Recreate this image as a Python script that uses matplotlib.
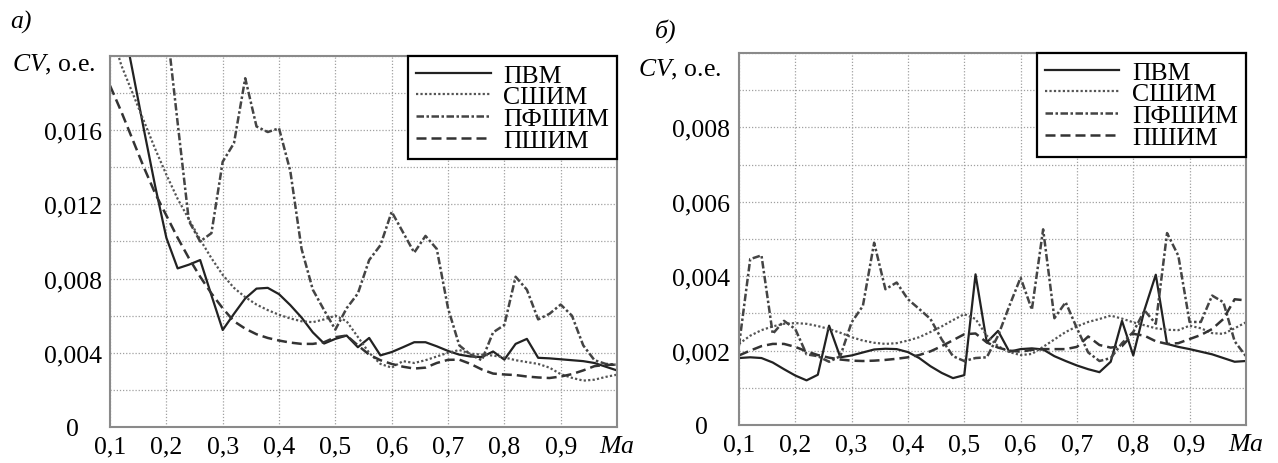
import matplotlib
matplotlib.use("Agg")
import matplotlib.pyplot as plt

plt.rcParams["font.family"] = ["Liberation Serif", "DejaVu Serif"]
plt.rcParams["mathtext.fontset"] = "custom"
plt.rcParams["mathtext.it"] = "Liberation Serif:italic"
plt.rcParams["mathtext.rm"] = "Liberation Serif"

# Mach number sampling
mach = [0.10, 0.12, 0.14, 0.16, 0.18, 0.20, 0.22, 0.24, 0.26, 0.28,
        0.30, 0.32, 0.34, 0.36, 0.38, 0.40, 0.42, 0.44, 0.46, 0.48,
        0.50, 0.52, 0.54, 0.56, 0.58, 0.60, 0.62, 0.64, 0.66, 0.68,
        0.70, 0.72, 0.74, 0.76, 0.78, 0.80, 0.82, 0.84, 0.86, 0.88,
        0.90, 0.92, 0.94, 0.96, 0.98, 1.00]

labels = ["ПВМ", "СШИМ", "ПФШИМ", "ПШИМ"]

# panel а), CV * 1e3
pvm_a = [25.7, 22.3, 19.2, 16.05, 13.0, 10.2, 8.55, 8.75, 9.0, 7.1,
         5.23, 6.1, 6.93, 7.46, 7.5, 7.16, 6.57, 5.9, 5.1, 4.5,
         4.75, 4.93, 4.3, 4.8, 3.86, 4.04, 4.3, 4.57, 4.57, 4.35,
         4.1, 3.9, 3.8, 3.77, 4.07, 3.63, 4.48, 4.75, 3.73, 3.7,
         3.65, 3.6, 3.55, 3.45, 3.25, 3.05]
sshim_a = [21.5, 19.5, 18.0, 16.5, 15.0, 13.6, 12.3, 11.2, 10.1, 9.1,
           8.2, 7.5, 7.0, 6.6, 6.3, 6.05, 5.85, 5.7, 5.65, 5.8,
           6.0, 5.7, 4.85, 4.0, 3.4, 3.2, 3.55, 3.45, 3.6, 3.8,
           4.0, 4.15, 3.95, 3.9, 3.85, 3.75, 3.6, 3.5, 3.4, 3.2,
           2.85, 2.65, 2.5, 2.55, 2.7, 2.82]
pfshim_a = [40.0, 36.0, 32.0, 28.5, 25.0, 21.8, 16.4, 11.1, 10.0, 10.45,
            14.3, 15.3, 18.8, 16.2, 15.9, 16.1, 13.8, 9.6, 7.4, 6.3,
            5.25, 6.4, 7.2, 9.0, 9.8, 11.6, 10.5, 9.4, 10.3, 9.6,
            6.4, 4.4, 3.9, 3.6, 5.1, 5.5, 8.1, 7.4, 5.8, 6.1,
            6.6, 6.0, 4.4, 3.6, 3.4, 3.36]
pshim_a = [18.4, 17.0, 15.5, 14.0, 12.6, 11.4, 10.2, 9.1, 8.1, 7.2,
           6.4, 5.7, 5.3, 5.0, 4.8, 4.66, 4.55, 4.48, 4.48, 4.57,
           4.84, 4.93, 4.4, 3.9, 3.6, 3.4, 3.25, 3.15, 3.2, 3.45,
           3.62, 3.63, 3.4, 3.1, 2.88, 2.83, 2.8, 2.72, 2.67, 2.64,
           2.72, 2.85, 3.05, 3.28, 3.35, 3.36]

# panel б), CV * 1e3
pvm_b = [1.8, 1.82, 1.8, 1.68, 1.5, 1.33, 1.2, 1.35, 2.67, 1.82,
         1.87, 1.95, 2.03, 2.05, 2.04, 1.96, 1.8, 1.58, 1.4, 1.26,
         1.34, 4.05, 2.22, 2.53, 1.97, 2.04, 2.06, 2.03, 1.85, 1.72,
         1.6, 1.5, 1.42, 1.7, 2.8, 1.87, 3.1, 4.04, 2.18, 2.1,
         2.04, 1.97, 1.9, 1.8, 1.7, 1.72]
sshim_b = [2.18, 2.4, 2.55, 2.65, 2.72, 2.74, 2.72, 2.66, 2.58, 2.48,
           2.36, 2.27, 2.21, 2.18, 2.2, 2.27, 2.36, 2.5, 2.65, 2.82,
           2.98, 2.85, 2.4, 2.12, 1.96, 1.88, 1.91, 2.1, 2.3, 2.5,
           2.65, 2.77, 2.85, 2.94, 2.86, 2.76, 2.68, 2.6, 2.56, 2.55,
           2.67, 2.6, 2.47, 2.45, 2.6, 2.76]
pfshim_b = [2.13, 4.46, 4.56, 2.45, 2.8, 2.58, 1.9, 1.85, 1.7, 1.85,
            2.76, 3.2, 4.9, 3.65, 3.83, 3.38, 3.12, 2.85, 2.3, 1.85,
            1.72, 1.8, 1.82, 2.4, 3.2, 3.96, 3.1, 5.26, 2.87, 3.3,
            2.6, 1.95, 1.72, 1.8, 2.2, 2.5, 3.08, 2.72, 5.16, 4.55,
            2.77, 2.77, 3.48, 3.3, 2.25, 1.85]
pshim_b = [1.87, 2.0, 2.12, 2.18, 2.18, 2.1, 1.98, 1.88, 1.81, 1.76,
           1.73, 1.72, 1.73, 1.75, 1.78, 1.82, 1.88, 1.98, 2.12, 2.28,
           2.44, 2.46, 2.22, 2.08, 2.0, 1.97, 2.02, 2.04, 2.04, 2.04,
           2.1, 2.38, 2.15, 2.08, 2.12, 2.45, 2.4, 2.25, 2.18, 2.2,
           2.31, 2.42, 2.58, 2.85, 3.38, 3.35]

x_ticks = [0.1, 0.2, 0.3, 0.4, 0.5, 0.6, 0.7, 0.8, 0.9, 1.0]
x_ticklabels = ["0,1", "0,2", "0,3", "0,4", "0,5", "0,6", "0,7", "0,8", "0,9",
                r"$\mathit{Ma}$"]

FS = 18.5

styles = [
    dict(color="#222222", linestyle="-", linewidth=1.6),
    dict(color="#555555", linestyle=(0, (1, 1)), linewidth=1.6),
    dict(color="#444444", linestyle=(0, (3, 1, 1, 1)), linewidth=1.8),
    dict(color="#333333", linestyle=(0, (4, 2)), linewidth=1.8),
]

fig = plt.figure(figsize=(12.78, 4.64), dpi=100)
ax_a = fig.add_axes([0.0861, 0.0776, 0.3967, 0.7996])
ax_b = fig.add_axes([0.5782, 0.0819, 0.3967, 0.8017])


def draw_panel(ax, series, ymax, ystep_major, ystep_minor):
    for vals, lab, st in zip(series, labels, styles):
        ax.plot(mach, [v / 1000 for v in vals], label=lab, **st)
    ax.set_xlim(0.1, 1.0)
    ax.set_ylim(0, ymax)
    ax.set_xticks(x_ticks)
    ax.set_xticklabels(x_ticklabels)
    n_major = int(round(ymax / ystep_major))
    yt = [i * ystep_major for i in range(n_major)]
    ax.set_yticks(yt)
    ax.set_yticklabels(["0"] + [f"{v:.3f}".replace(".", ",") for v in yt[1:]])
    n_minor = int(round(ymax / ystep_minor))
    ax.set_yticks([i * ystep_minor for i in range(n_minor + 1)], minor=True)
    ax.grid(True, which="both", color="#a0a0a0", linestyle=(0, (1, 1.5)),
            linewidth=0.9)
    ax.tick_params(which="both", length=0, labelsize=FS)
    ax.tick_params(axis="y", pad=27)
    ax.tick_params(axis="x", pad=6)
    for t in ax.get_yticklabels():
        t.set_ha("center")
    for sp in ax.spines.values():
        sp.set_color("#8a8a8a")
        sp.set_linewidth(1.5)
    leg = ax.legend(loc="upper right", fontsize=FS, borderaxespad=0,
                    fancybox=False, framealpha=1, edgecolor="black",
                    handlelength=2.9, handletextpad=0.5, labelspacing=-0.05,
                    borderpad=0.3)
    leg.get_frame().set_linewidth(1.6)


draw_panel(ax_a, [pvm_a, sshim_a, pfshim_a, pshim_a], 0.020, 0.004, 0.002)
draw_panel(ax_b, [pvm_b, sshim_b, pfshim_b, pshim_b], 0.010, 0.002, 0.001)

ax_a.text(-0.03, 0.978, r"$\mathit{CV}$, о.е.", transform=ax_a.transAxes,
          ha="right", va="center", fontsize=FS)
ax_b.text(-0.034, 0.957, r"$\mathit{CV}$, о.е.", transform=ax_b.transAxes,
          ha="right", va="center", fontsize=FS)

fig.text(10 / 1278, 1 - 22 / 464, "а)", fontsize=FS, fontstyle="italic",
         ha="left", va="center")
fig.text(655 / 1278, 1 - 31 / 464, "б)", fontsize=FS, fontstyle="italic",
         ha="left", va="center")

fig.savefig("out.png", dpi=100)
